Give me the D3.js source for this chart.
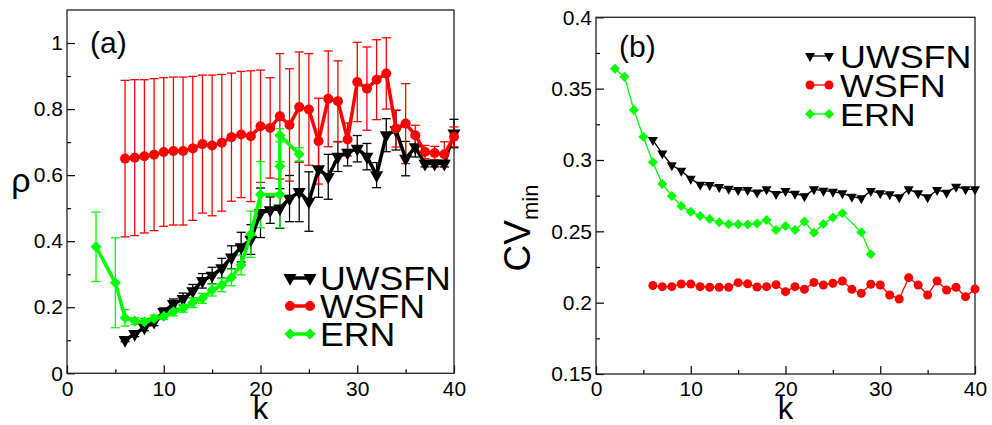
<!DOCTYPE html>
<html><head><meta charset="utf-8">
<script src="https://cdn.jsdelivr.net/npm/d3@7"></script>
<style>
body{margin:0;background:#fff;}
text{font-family:"Liberation Sans",Arial,Helvetica,sans-serif;fill:#000;}
</style></head>
<body><svg id="c" width="992" height="425"></svg>
<script>
// ---------- Panel (a): rho vs k ----------
const kA_UWSFN = [6,7,8,9,10,11,12,13,14,15,16,17,18,19,20,21,22,23,24,25,26,27,28,29,30,31,32,33,34,35,36,37,38,39,40];
const rhoA_UWSFN = [0.101,0.119,0.139,0.156,0.186,0.210,0.225,0.249,0.280,0.296,0.318,0.351,0.382,0.405,0.486,0.494,0.499,0.529,0.549,0.520,0.618,0.595,0.656,0.668,0.680,0.656,0.600,0.721,0.736,0.650,0.685,0.635,0.635,0.635,0.726];
const errA_UWSFN = [0.005,0.008,0.010,0.012,0.012,0.015,0.018,0.020,0.022,0.025,0.030,0.035,0.045,0.045,0.075,0.040,0.060,0.070,0.090,0.090,0.085,0.068,0.045,0.040,0.040,0.040,0.038,0.050,0.060,0.052,0.030,0.010,0.010,0.010,0.043];

const kA_WSFN = [6,7,8,9,10,11,12,13,14,15,16,17,18,19,20,21,22,23,24,25,26,27,28,29,30,31,32,33,34,35,36,37,38,39,40];
const rhoA_WSFN = [0.650,0.653,0.657,0.662,0.670,0.673,0.673,0.681,0.694,0.690,0.698,0.715,0.723,0.718,0.748,0.743,0.778,0.752,0.806,0.799,0.703,0.831,0.824,0.708,0.882,0.862,0.889,0.908,0.741,0.756,0.721,0.670,0.667,0.663,0.716];
const errA_WSFN = [0.237,0.236,0.232,0.230,0.225,0.224,0.224,0.218,0.209,0.213,0.207,0.194,0.191,0.198,0.170,0.152,0.190,0.170,0.167,0.169,0.130,0.145,0.122,0.050,0.120,0.126,0.121,0.108,0.056,0.121,0.030,0.020,0.020,0.038,0.030];

const kA_ERN = [3,5,6,7,8,9,10,11,12,13,14,15,16,17,18,19,20,22,22,22,24];
const rhoA_ERN = [0.383,0.274,0.168,0.158,0.156,0.166,0.173,0.186,0.197,0.214,0.227,0.252,0.267,0.290,0.328,0.421,0.541,0.541,0.627,0.721,0.663];
const errA_ERN = [0.105,0.136,0.025,0.010,0.010,0.010,0.010,0.012,0.012,0.015,0.015,0.018,0.020,0.025,0.030,0.070,0.100,0.100,0.090,0.020,0.020];

// ---------- Panel (b): CV_min vs k ----------
const kB_UWSFN = [6,7,8,9,10,11,12,13,14,15,16,17,18,19,20,21,22,23,24,25,26,27,28,29,30,31,32,33,34,35,36,37,38,39,40];
const cvB_UWSFN = [0.314,0.3045,0.2963,0.2925,0.2868,0.2827,0.2825,0.281,0.2798,0.279,0.279,0.2772,0.2794,0.2762,0.2782,0.2764,0.2746,0.2794,0.2785,0.2778,0.2766,0.2743,0.2731,0.2783,0.2766,0.2759,0.2738,0.2794,0.2766,0.2738,0.279,0.2771,0.2813,0.2794,0.2794];

const kB_WSFN = [6,7,8,9,10,11,12,13,14,15,16,17,18,19,20,21,22,23,24,25,26,27,28,29,30,31,32,33,34,35,36,37,38,39,40];
const cvB_WSFN = [0.2120,0.2112,0.2112,0.2131,0.2131,0.2112,0.2108,0.2108,0.2108,0.2140,0.2132,0.2110,0.2112,0.2126,0.2077,0.2112,0.2094,0.2142,0.2124,0.2136,0.2152,0.2094,0.2066,0.2129,0.2124,0.2054,0.2026,0.2175,0.2124,0.2054,0.2152,0.2089,0.2108,0.2042,0.2096];

const kB_ERN = [2,3,4,5,6,7,8,9,10,11,12,13,14,15,16,17,18,19,20,21,22,23,24,25,26,28,29];
const cvB_ERN = [0.364,0.3584,0.335,0.3163,0.2984,0.2832,0.2748,0.2677,0.2638,0.2607,0.2586,0.2563,0.2549,0.2549,0.2547,0.2555,0.2579,0.2509,0.2537,0.2509,0.2568,0.249,0.2551,0.2596,0.2626,0.2493,0.2339];

// ---------- axes / labels ----------
const xTicks = [0,10,20,30,40];
const xTickLabels = ["0","10","20","30","40"];
const xMinor = [5,15,25,35];
const yTicksA = [0,0.2,0.4,0.6,0.8,1];
const yTickLabelsA = ["0","0.2","0.4","0.6","0.8","1"];
const yMinorA = [0.1,0.3,0.5,0.7,0.9];
const yTicksB = [0.15,0.2,0.25,0.3,0.35,0.4];
const yTickLabelsB = ["0.15","0.2","0.25","0.3","0.35","0.4"];
const yMinorB = [0.175,0.225,0.275,0.325,0.375];
const seriesNames = ["UWSFN","WSFN","ERN"];
const seriesColors = ["#000000","#ff0000","#00ff00"];

const svg = d3.select("#c");

function tri(s){ // downward triangle of width s
  const h = s*0.9;
  return `M${-s/2},${-h/3}L${s/2},${-h/3}L0,${2*h/3}Z`;
}
function marker(g, type, color, size){
  if(type==="circle") return g.append("circle").attr("r", size/2).attr("fill", color);
  if(type==="diamond"){ const d=size/2; return g.append("path").attr("d",`M0,${-d}L${d},0L0,${d}L${-d},0Z`).attr("fill",color);}
  return g.append("path").attr("d", tri(size)).attr("fill", color);
}

function panel(opt){
  const g = svg.append("g");
  const x = d3.scaleLinear().domain([0,40]).range(opt.xr);
  const y = d3.scaleLinear().domain(opt.yd).range(opt.yr);
  const fs = "21px";
  const ax = g.append("g").attr("transform",`translate(0,${opt.yr[0]})`)
    .call(d3.axisBottom(x).tickValues(xTicks).tickSize(-8).tickPadding(7.5).tickFormat((d,i)=>xTickLabels[i]));
  const axm = g.append("g").attr("transform",`translate(0,${opt.yr[0]})`)
    .call(d3.axisBottom(x).tickValues(xMinor).tickSize(-4).tickFormat(""));
  const ay = g.append("g").attr("transform",`translate(${opt.xr[0]},0)`)
    .call(d3.axisLeft(y).tickValues(opt.yt).tickSize(-8).tickPadding(4).tickFormat((d,i)=>opt.ytl[i]));
  const aym = g.append("g").attr("transform",`translate(${opt.xr[0]},0)`)
    .call(d3.axisLeft(y).tickValues(opt.ym).tickSize(-4).tickFormat(""));
  [ax,axm,ay,aym].forEach(a=>{a.select(".domain").remove(); a.selectAll("line").attr("stroke","#000").attr("stroke-width",1.2);
    a.selectAll("text").style("font-size",fs).attr("font-family",null);});
  g.append("rect").attr("x",opt.xr[0]).attr("y",opt.yr[1]).attr("width",opt.xr[1]-opt.xr[0]).attr("height",opt.yr[0]-opt.yr[1])
    .attr("fill","none").attr("stroke","#222").attr("stroke-width",1.3);

  const plot = g.append("g");
  opt.series.forEach(s=>{
    const sg = plot.append("g");
    if(s.err){
      s.k.forEach((kk,i)=>{
        const e = s.err[i], v = s.v[i];
        const px = x(kk), y1 = y(v-e), y2 = y(v+e);
        sg.append("line").attr("x1",px).attr("x2",px).attr("y1",y1).attr("y2",y2).attr("stroke",s.color).attr("stroke-width",1.3);
        [y1,y2].forEach(yy=>sg.append("line").attr("x1",px-4.5).attr("x2",px+4.5).attr("y1",yy).attr("y2",yy).attr("stroke",s.color).attr("stroke-width",1.3));
      });
    }
  });
  opt.series.forEach(s=>{
    const sg = plot.append("g");
    const line = d3.line().x((d,i)=>x(s.k[i])).y((d,i)=>y(s.v[i]));
    sg.append("path").attr("d", line(s.v)).attr("fill","none").attr("stroke",s.color).attr("stroke-width",opt.lw).attr("stroke-linejoin","round");
    s.k.forEach((kk,i)=>{
      marker(sg, s.type, s.color, s.size).attr("transform",`translate(${x(kk)},${y(s.v[i])})`);
    });
  });
  const lg = g.append("g");
  opt.series.forEach((s,i)=>{
    const cy = opt.leg.y0 + i*opt.leg.dy;
    lg.append("line").attr("x1",opt.leg.x1).attr("x2",opt.leg.x2).attr("y1",cy).attr("y2",cy).attr("stroke",s.color).attr("stroke-width",opt.lw);
    [opt.leg.x1,opt.leg.x2].forEach(mx=>marker(lg,s.type,s.color,s.size).attr("transform",`translate(${mx},${cy})`));
    const t = lg.append("text").attr("x",opt.leg.tx).attr("y",cy+opt.leg.fs*0.36).style("font-size",opt.leg.fs+"px").text(seriesNames[i]);
    const w = t.node().getComputedTextLength();
    t.attr("textLength", w*opt.leg.stretch).attr("lengthAdjust","spacingAndGlyphs");
  });
  return {g,x,y};
}

const A = panel({
  xr:[67,454], yr:[373.3,10], yd:[0,1.1], yt:yTicksA, ytl:yTickLabelsA, ym:yMinorA, lw:3.5,
  series:[
    {k:kA_UWSFN, v:rhoA_UWSFN, err:errA_UWSFN, color:seriesColors[0], type:"tri", size:13},
    {k:kA_WSFN, v:rhoA_WSFN, err:errA_WSFN, color:seriesColors[1], type:"circle", size:10},
    {k:kA_ERN, v:rhoA_ERN, err:errA_ERN, color:seriesColors[2], type:"diamond", size:11}
  ],
  leg:{x1:290,x2:310,tx:320,y0:278,dy:28,fs:33,stretch:1.08}
});
const B = panel({
  xr:[596,975], yr:[374,17.3], yd:[0.15,0.4], yt:yTicksB, ytl:yTickLabelsB, ym:yMinorB, lw:1.3,
  series:[
    {k:kB_UWSFN, v:cvB_UWSFN, color:seriesColors[0], type:"tri", size:10},
    {k:kB_WSFN, v:cvB_WSFN, color:seriesColors[1], type:"circle", size:9},
    {k:kB_ERN, v:cvB_ERN, color:seriesColors[2], type:"diamond", size:10}
  ],
  leg:{x1:810,x2:829,tx:840,y0:56,dy:29,fs:32,stretch:1.12}
});

svg.append("text").attr("x",90).attr("y",53).style("font-size","30px").text("(a)");
svg.append("text").attr("x",619).attr("y",57).style("font-size","30px").text("(b)");
svg.append("text").attr("x",260.5).attr("y",419).attr("text-anchor","middle").style("font-size","31px").text("k");
svg.append("text").attr("x",785.5).attr("y",419).attr("text-anchor","middle").style("font-size","31px").text("k");
svg.append("text").attr("x",21).attr("y",192).attr("text-anchor","middle").style("font-size","34px").text("ρ");
const cv = svg.append("text").attr("transform","translate(530,228) rotate(-90)").attr("text-anchor","middle").style("font-size","37px");
cv.append("tspan").text("CV");
cv.append("tspan").attr("dy","8").style("font-size","22px").text("min");
</script></body></html>
